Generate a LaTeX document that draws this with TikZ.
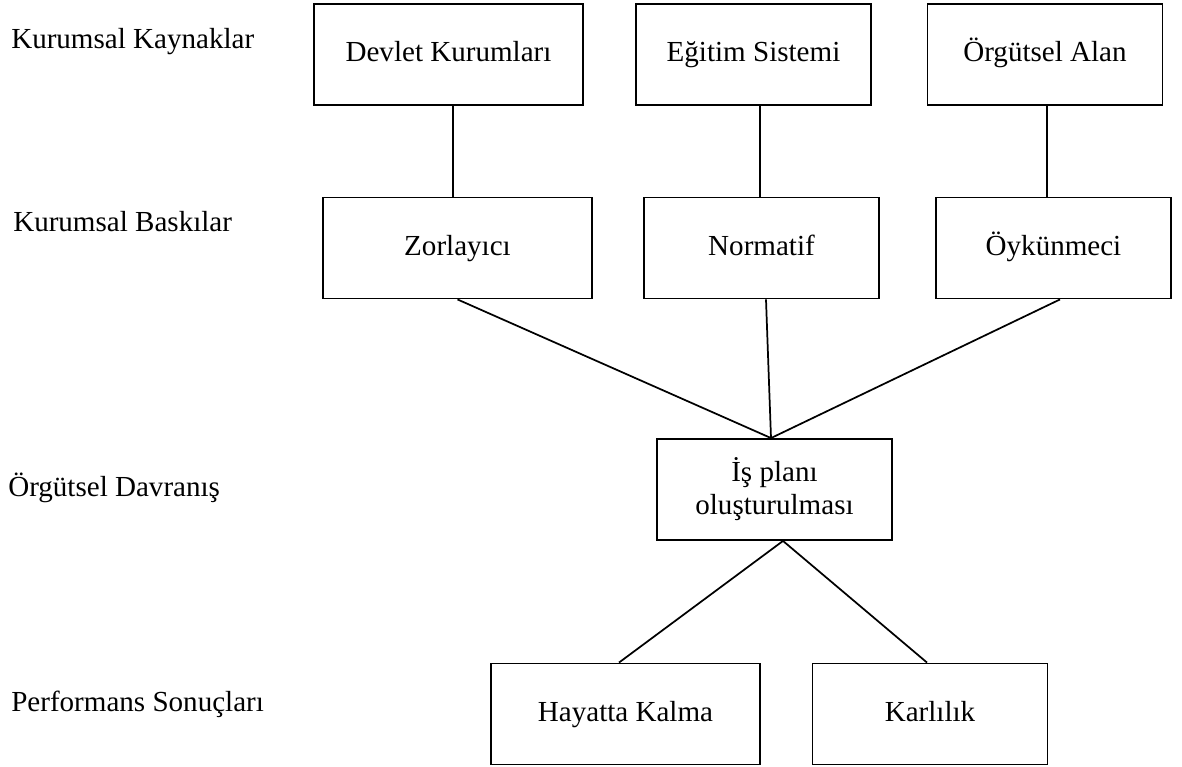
\documentclass[tikz,border=0pt]{standalone}
\usepackage{fontspec}
\setmainfont{Liberation Serif}
\usetikzlibrary{calc}
\begin{document}
\begin{tikzpicture}[x=0.75pt, y=-0.75pt,
  every node/.style={font=\fontsize{21.8}{24.75}\selectfont},
  box/.style={draw, line width=1.4pt, inner sep=0pt, align=center, minimum height=75.75pt},
  oneline/.style={text height=15.6pt, text depth=5pt},
  wbox/.style={box, oneline, minimum width=201.75pt},
  nbox/.style={box, oneline, minimum width=176.25pt},
  tbox/.style={box, minimum width=176.25pt},
  lbl/.style={anchor=base west, inner sep=0pt},
  link/.style={line width=1.3pt}]
\useasboundingbox (0,0) rectangle (1182,767);

% row labels
\node[lbl] (kk) at (11,49)  {Kurumsal Kaynaklar};
\node[lbl] (kb) at (13,231) {Kurumsal Baskılar};
\node[lbl] (od) at (8,496)  {Örgütsel Davranış};
\node[lbl] (ps) at (11,711) {Performans Sonuçları};

% institutional sources
\node[wbox] (dev) at (448.5,54.5) {Devlet Kurumları};
\node[nbox] (egi) at (753.5,54.5) {Eğitim Sistemi};
\node[nbox] (org) at (1045,54.5)  {Örgütsel Alan};

% institutional pressures
\node[wbox] (zor) at (457.5,248) {Zorlayıcı};
\node[nbox] (nor) at (761.5,248) {Normatif};
\node[nbox] (oyk) at (1053.5,248) {Öykünmeci};

% organisational behaviour
\node[tbox] (isp) at (774.5,489.5) {İş planı\\oluşturulması};

% performance outcomes
\node[wbox] (hay) at (625.5,714) {Hayatta Kalma};
\node[nbox] (kar) at (930,714)   {Karlılık};

% junction points on the central box
\coordinate (ispT) at ($(isp.north)+(-3.5,0)$);
\coordinate (ispB) at ($(isp.south)+(8.5,0)$);

% sources to pressures
\draw[link] ($(dev.south)+(4.5,0)$) -- ($(zor.north)+(-4.5,0)$);
\draw[link] ($(egi.south)+(6.5,0)$) -- ($(nor.north)+(-1.5,0)$);
\draw[link] ($(org.south)+(2,0)$)   -- ($(oyk.north)+(-6.5,0)$);

% pressures to behaviour
\draw[link] (zor.south) -- (ispT);
\draw[link] ($(nor.south)+(4.5,0)$) -- (ispT);
\draw[link] ($(oyk.south)+(6.5,0)$) -- (ispT);

% behaviour to outcomes
\draw[link] (ispB) -- ($(hay.north)+(-6.5,0)$);
\draw[link] (ispB) -- ($(kar.north)+(-3,0)$);
\end{tikzpicture}
\end{document}
